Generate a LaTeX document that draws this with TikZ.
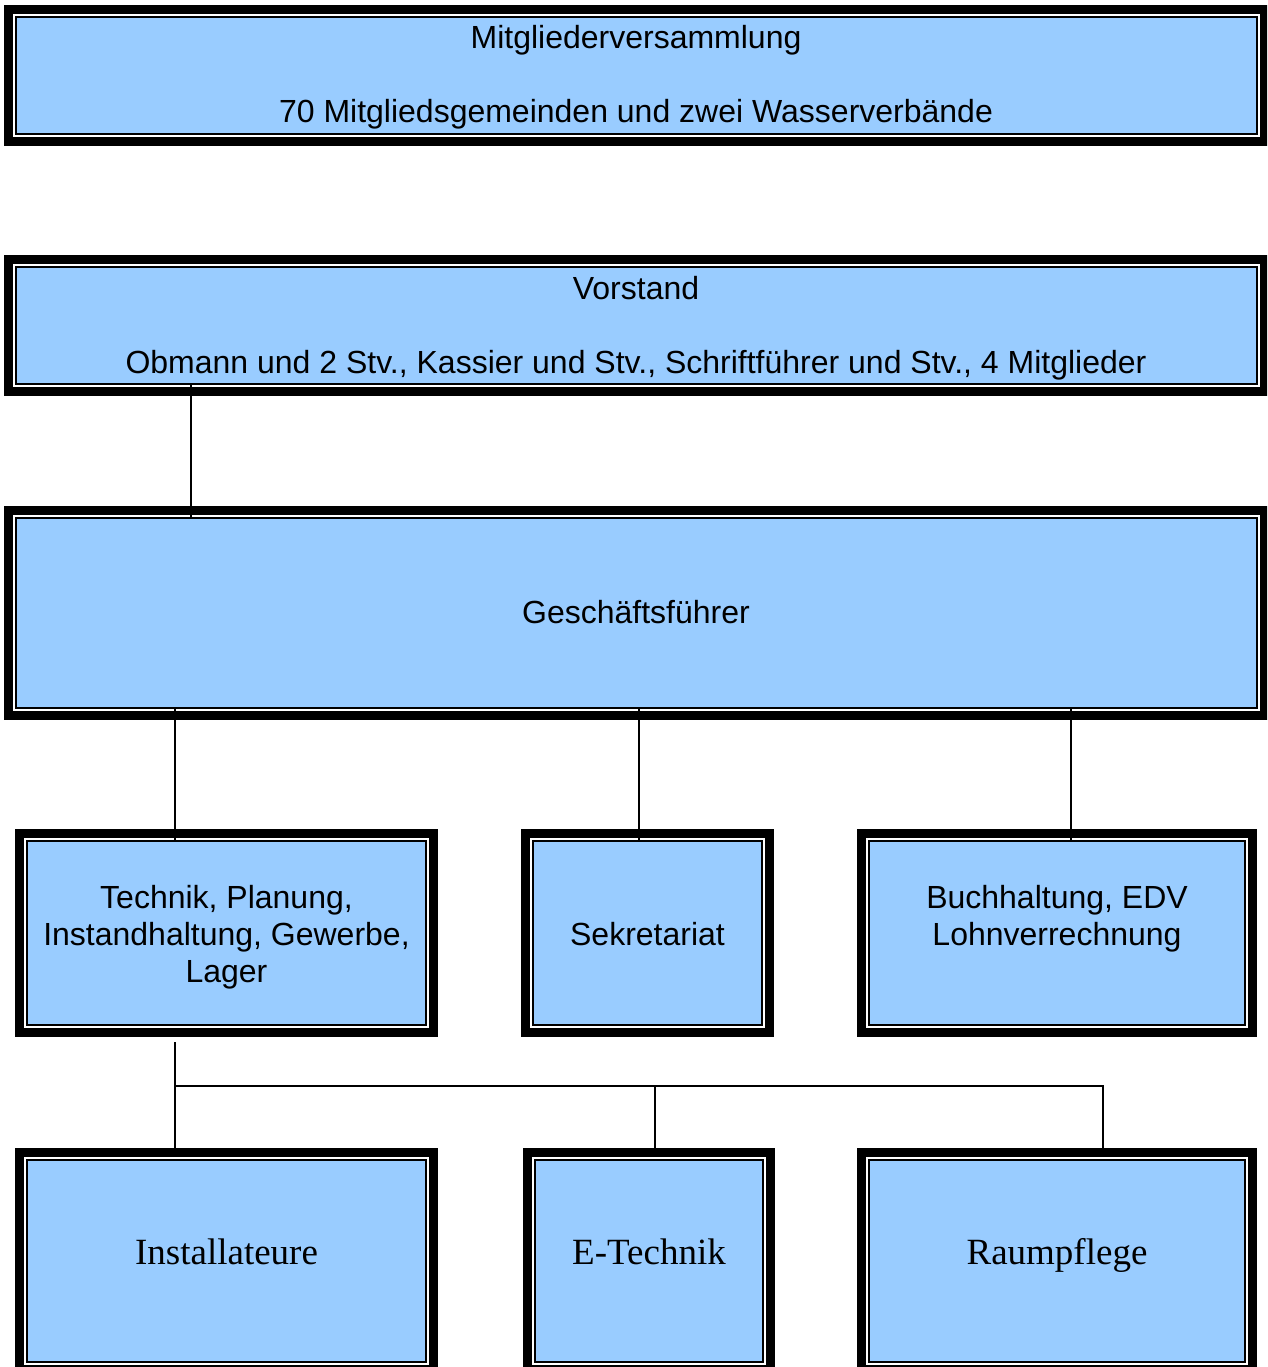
\documentclass[tikz,border=0pt]{standalone}
\usepackage{fontspec}
\setmainfont{Liberation Sans}
\newfontfamily\serifF{Liberation Serif}
\usetikzlibrary{fit}
\definecolor{boxblue}{RGB}{153,204,255}
\tikzset{
  frameouter/.style={fill=black},
  framegap/.style={fill=white},
  frameinner/.style={fill=black},
  orgnode/.style={fill=boxblue, inner sep=0pt, outer sep=0pt},
  lbl/.style={inner sep=0pt, anchor=base, font=\fontsize{32}{37}\selectfont},
  seriflbl/.style={inner sep=0pt, anchor=base, font=\serifF\fontsize{37}{42}\selectfont},
  conn/.style={draw=black, line width=1.5pt},
}
% \orgbox{name}{x1}{y1}{x2}{y2}
\newcommand\orgbox[5]{%
  \fill[frameouter] (#2,#3) rectangle (#4,#5);
  \fill[framegap] (#2+9,#3+9) rectangle (#4-9,#5-9);
  \fill[frameinner] (#2+11,#3+11) rectangle (#4-11,#5-11);
  \coordinate (#1nw) at (#2+13,#3+13);
  \coordinate (#1se) at (#4-13,#5-13);
  \node[orgnode, fit=(#1nw)(#1se)] (#1) {};
}
\begin{document}
\begin{tikzpicture}[x=1pt,y=-1pt]
\useasboundingbox (0,0) rectangle (1267,1367);
\clip (0,0) rectangle (1267,1367);

\orgbox{mv}{4}{5}{1269}{146}
\node[lbl] (mvA) at (636,49) {Mitgliederversammlung};
\node[lbl] (mvB) at (636,123) {70 Mitgliedsgemeinden und zwei Wasserverbände};

\orgbox{vor}{4}{255}{1269}{396}
\node[lbl] (vorA) at (636,299) {Vorstand};
\node[lbl] (vorB) at (636,373) {Obmann und 2 Stv., Kassier und Stv., Schriftführer und Stv., 4 Mitglieder};

\orgbox{gf}{4}{506}{1269}{720}
\node[lbl] (gfA) at (636,623) {Geschäftsführer};

\orgbox{tech}{15}{829}{438}{1037}
\node[lbl] (techA) at (226.5,908) {Technik, Planung,};
\node[lbl] (techB) at (226.5,945) {Instandhaltung, Gewerbe,};
\node[lbl] (techC) at (226.5,982) {Lager};

\orgbox{sek}{521}{829}{774}{1037}
\node[lbl] (sekA) at (647.5,945) {Sekretariat};

\orgbox{buch}{857}{829}{1257}{1037}
\node[lbl] (buchA) at (1057,908) {Buchhaltung, EDV};
\node[lbl] (buchB) at (1057,945) {Lohnverrechnung};

\orgbox{inst}{15}{1148}{438}{1374}
\node[seriflbl] (instA) at (226.5,1264) {Installateure};

\orgbox{et}{523}{1148}{775}{1374}
\node[seriflbl] (etA) at (649,1264) {E-Technik};

\orgbox{rp}{857}{1148}{1257}{1374}
\node[seriflbl] (rpA) at (1057,1264) {Raumpflege};

% connectors
\coordinate (xa) at (191,0);
\coordinate (xb) at (175,0);
\coordinate (xs) at (639,0);
\coordinate (xbu) at (1071,0);
\coordinate (xc) at (655,0);
\coordinate (xd) at (1103,0);
\coordinate (bus) at (0,1086);

\draw[conn] (vor.south -| xa) -- (gf.north -| xa);
\draw[conn] (gf.south -| xb) -- (tech.north -| xb);
\draw[conn] (gf.south -| xs) -- (sek.north -| xs);
\draw[conn] (gf.south -| xbu) -- (buch.north -| xbu);

\draw[conn] ([yshift=-18pt]tech.south -| xb) -- ([yshift=13pt]inst.north -| xb);
\draw[conn] (bus -| xb) -- (bus -| xd) -- ([yshift=13pt]rp.north -| xd);
\draw[conn] (bus -| xc) -- ([yshift=13pt]et.north -| xc);
\end{tikzpicture}
\end{document}
